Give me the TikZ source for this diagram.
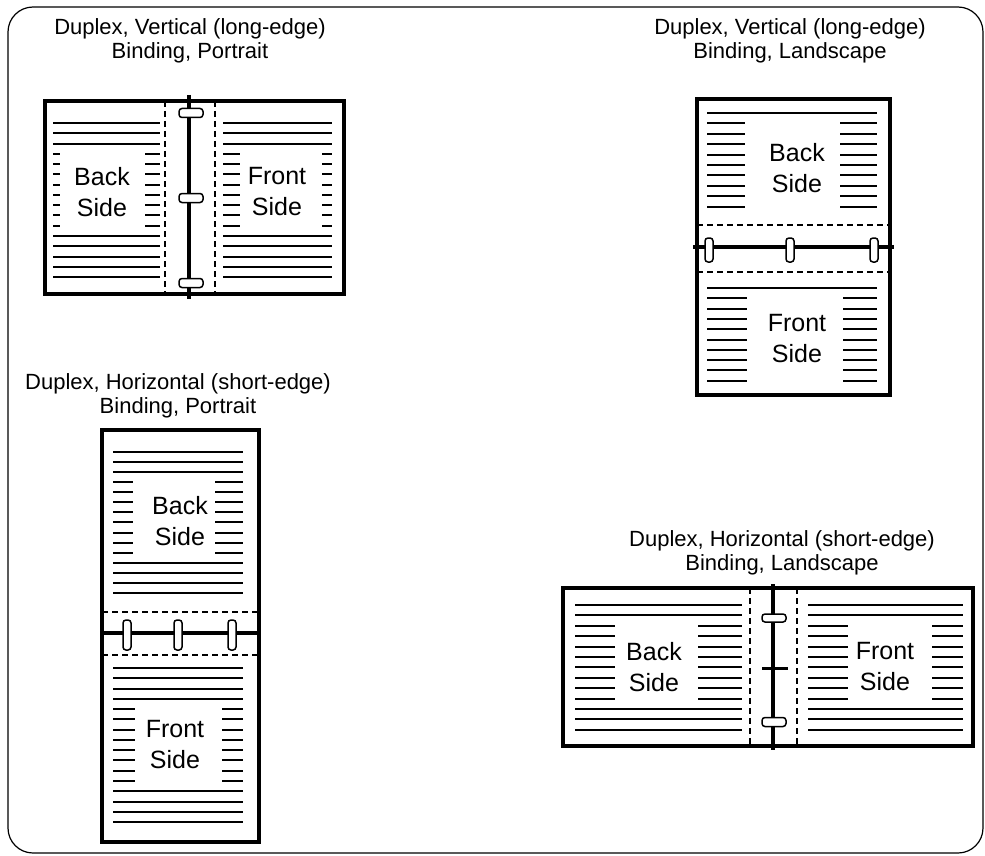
\documentclass[tikz,border=0pt]{standalone}
\usepackage{fontspec}
\setmainfont{Liberation Sans}
\newcommand\fullrows[5]{\foreach \i in {#5}{\draw[txtline] (#1,{#3+\i*#4}) -- (#2,{#3+\i*#4});}}
\newcommand\siderows[7]{\foreach \i in {#7}{\draw[txtline] (#1,{#5+\i*#6}) -- (#2,{#5+\i*#6}); \draw[txtline] (#3,{#5+\i*#6}) -- (#4,{#5+\i*#6});}}
\begin{document}
\begin{tikzpicture}[x=1pt,y=-1pt,
  frame/.style={line width=1.2pt, rounded corners=25pt},
  pagebox/.style={line width=3.6pt},
  fold/.style={line width=1.5pt, dash pattern=on 6pt off 4pt},
  spine/.style={line width=4pt},
  ring/.style={draw, fill=white, line width=1.5pt, rounded corners=3pt},
  txtline/.style={line width=2pt},
  title/.style={inner sep=0pt, align=center, font=\fontsize{22}{23.5}\selectfont},
  sidetext/.style={inner sep=0pt, align=center, font=\fontsize{25}{31}\selectfont}]
\useasboundingbox (0,0) rectangle (985,856);
\draw[frame] (8,7) rectangle (983,853);

% ---------- D1: long-edge, portrait ----------
\node[title] (t1) at (190,41) {Duplex, Vertical (long-edge)\\Binding, Portrait};
\fullrows{53}{160}{123}{10.27}{0,1,2,11,12,13,14,15}
\siderows{53}{60}{145}{160}{123}{10.27}{3,...,10}
\fullrows{223}{332}{123}{10.27}{0,1,2,11,12,13,14,15}
\siderows{223}{240}{322}{332}{123}{10.27}{3,...,10}
\node[sidetext, fill=white, inner sep=2pt] (b1) at (102,192) {Back\\Side};
\node[sidetext, fill=white, inner sep=2pt] (f1) at (277,192) {Front\\Side};
\draw[fold] (165,101) -- (165,294);
\draw[fold] (215,101) -- (215,294);
\draw[spine] (189,95) -- (189,299);
\foreach \y/\n in {113/a,198/b,283/c} \node[ring, minimum width=24pt, minimum height=9pt, inner sep=0pt] (r1\n) at (191,\y) {};
\draw[pagebox] (45,101) rectangle (344,294);

% ---------- D2: long-edge, landscape ----------
\node[title] (t2) at (790,41) {Duplex, Vertical (long-edge)\\Binding, Landscape};
\fullrows{707}{877}{113}{10.4}{0}
\siderows{707}{745}{840}{877}{113}{10.4}{1,...,9}
\fullrows{707}{877}{288}{10.3}{0}
\siderows{707}{747}{843}{877}{288}{10.3}{1,...,9}
\node[sidetext] (b2) at (797,168) {Back\\Side};
\node[sidetext] (f2) at (797,339) {Front\\Side};
\draw[fold] (697,225) -- (890,225);
\draw[fold] (697,272) -- (890,272);
\draw[spine] (693,247) -- (894,247);
\foreach \x/\n in {709/a,790/b,874/c} \node[ring, minimum width=8pt, minimum height=24pt, inner sep=0pt] (r2\n) at (\x,250) {};
\draw[pagebox] (697,99) rectangle (890,395);

% ---------- D3: short-edge, portrait ----------
\node[title] (t3) at (178,396) {Duplex, Horizontal (short-edge)\\Binding, Portrait};
\fullrows{113}{243}{452}{10.07}{0,1,2,11,12,13,14}
\siderows{113}{133}{215}{243}{452}{10.07}{3,...,10}
\fullrows{113}{243}{668}{10.27}{0,1,2,3,12,13,14,15}
\siderows{113}{135}{222}{243}{668}{10.27}{4,...,11}
\node[sidetext] (b3) at (180,521) {Back\\Side};
\node[sidetext] (f3) at (175,745) {Front\\Side};
\draw[fold] (102,612) -- (259,612);
\draw[fold] (102,655) -- (259,655);
\draw[spine] (100,633) -- (261,633);
\foreach \x/\n in {127/a,178/b,232/c} \node[ring, minimum width=8pt, minimum height=30pt, inner sep=0pt] (r3\n) at (\x,635) {};
\draw[pagebox] (102,430) rectangle (259,842);

% ---------- D4: short-edge, landscape ----------
\node[title] (t4) at (782,553) {Duplex, Horizontal (short-edge)\\Binding, Landscape};
\fullrows{575}{742}{605}{10.4}{0,1,10,11,12}
\siderows{575}{615}{698}{742}{605}{10.4}{2,...,9}
\fullrows{808}{963}{605}{10.4}{0,1,10,11,12}
\siderows{808}{848}{932}{963}{605}{10.4}{2,...,9}
\node[sidetext] (b4) at (654,667) {Back\\Side};
\node[sidetext] (f4) at (885,667) {Front\\Side};
\draw[fold] (750,588) -- (750,746);
\draw[fold] (797,588) -- (797,746);
\draw[spine] (773,584) -- (773,750);
\node[ring, minimum width=24pt, minimum height=8pt, inner sep=0pt] (r4a) at (774,618) {};
\draw[line width=3pt] (762,668) -- (788,668);
\node[ring, minimum width=24pt, minimum height=9pt, inner sep=0pt] (r4c) at (774,722) {};
\draw[pagebox] (563,588) rectangle (973,746);
\end{tikzpicture}
\end{document}
